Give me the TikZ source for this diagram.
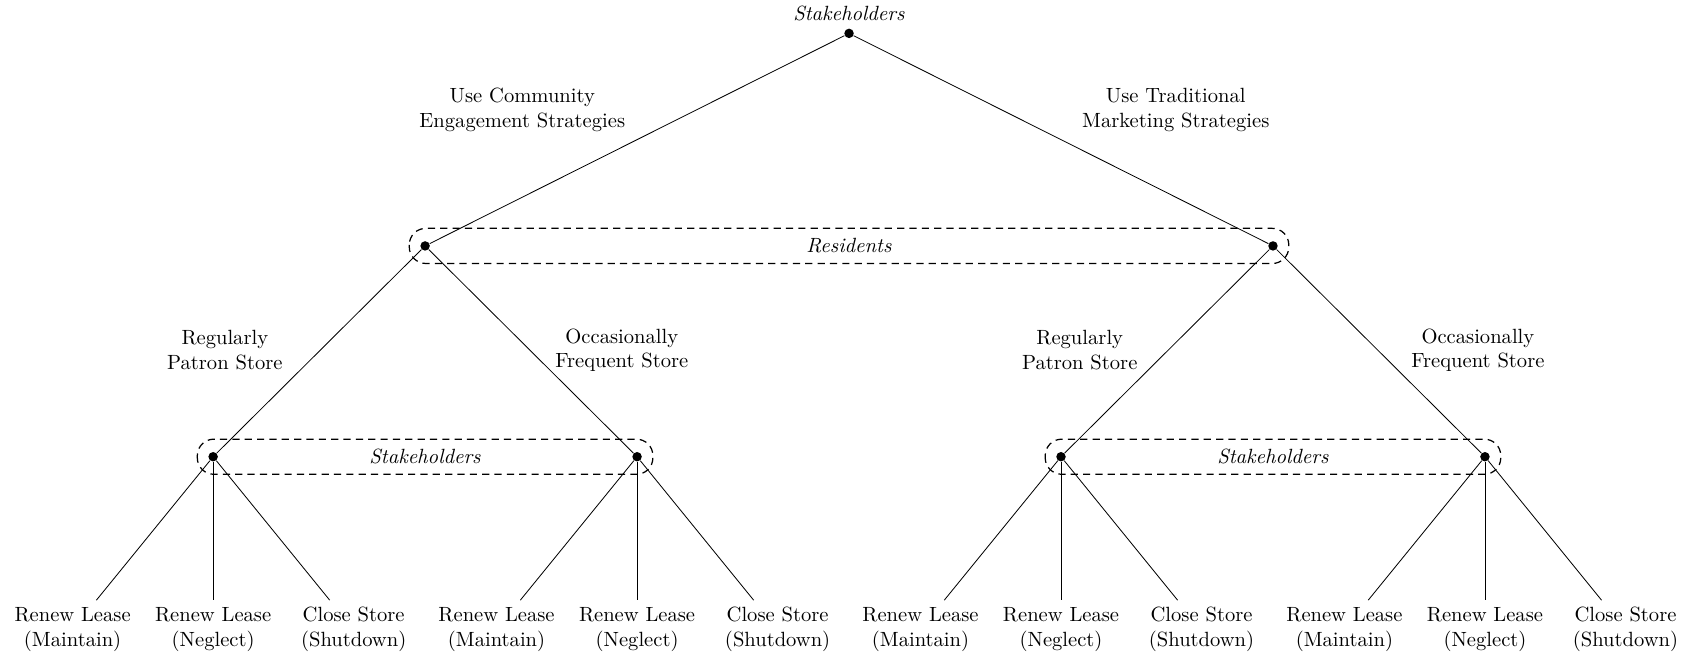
\documentclass[tikz,border=0pt]{standalone}
\usetikzlibrary{calc}
\tikzset{
  decision/.style={circle, fill, inner sep=0pt, minimum size=4.6pt},
  infoset/.style={dash pattern=on 3.5pt off 2.5pt, semithick, rounded corners=8pt},
  outcome/.style={align=center, anchor=north},
  choice/.style={align=center}
}
\begin{document}
\begin{tikzpicture}
    \useasboundingbox (-14.50, 0.57) rectangle (14.43, -10.67);

    % first move
    \node[decision] (root) at (0, 0) {};
    \node[above] (rootlbl) at (root.north) {\textit{Stakeholders}};
    \node[decision] (res1) at (-7.24, -3.63) {};
    \node[decision] (res2) at (7.24, -3.63) {};
    \draw (root) -- (res1); \draw (root) -- (res2);
    \node[choice] (comm) at (-5.58, -1.31) {Use Community\\Engagement Strategies};
    \node[choice] (trad) at (5.58, -1.31) {Use Traditional\\Marketing Strategies};

    % residents move
    \draw[infoset] ($(res1) + (-0.27, 0.3)$) rectangle ($(res2) + (0.27, -0.3)$);
    \node (reslbl) at ($(res1)!0.5!(res2)$) {\textit{Residents}};

    \node[decision] (stk1) at (-10.86, -7.23) {};
    \node[decision] (stk2) at (-3.62, -7.23) {};
    \node[decision] (stk3) at (3.62, -7.23) {};
    \node[decision] (stk4) at (10.86, -7.23) {};
    \draw (res1) -- (stk1); \draw (res1) -- (stk2);
    \draw (res2) -- (stk3); \draw (res2) -- (stk4);
    \node[choice] (reg1) at (-10.66, -5.41) {Regularly\\Patron Store};
    \node[choice] (occ1) at (-3.88, -5.41) {Occasionally\\Frequent Store};
    \node[choice] (reg2) at (3.94, -5.41) {Regularly\\Patron Store};
    \node[choice] (occ2) at (10.74, -5.41) {Occasionally\\Frequent Store};

    % stakeholders move again
    \draw[infoset] ($(stk1) + (-0.27, 0.3)$) rectangle ($(stk2) + (0.27, -0.3)$);
    \node (stklbl1) at ($(stk1)!0.5!(stk2)$) {\textit{Stakeholders}};
    \draw[infoset] ($(stk3) + (-0.27, 0.3)$) rectangle ($(stk4) + (0.27, -0.3)$);
    \node (stklbl2) at ($(stk3)!0.5!(stk4)$) {\textit{Stakeholders}};

    \node[outcome] (out1) at (-13.26, -9.68) {Renew Lease\\(Maintain)};
    \node[outcome] (out2) at (-10.86, -9.68) {Renew Lease\\(Neglect)};
    \node[outcome] (out3) at (-8.46, -9.68) {Close Store\\(Shutdown)};
    \node[outcome] (out4) at (-6.02, -9.68) {Renew Lease\\(Maintain)};
    \node[outcome] (out5) at (-3.62, -9.68) {Renew Lease\\(Neglect)};
    \node[outcome] (out6) at (-1.22, -9.68) {Close Store\\(Shutdown)};
    \node[outcome] (out7) at (1.22, -9.68) {Renew Lease\\(Maintain)};
    \node[outcome] (out8) at (3.62, -9.68) {Renew Lease\\(Neglect)};
    \node[outcome] (out9) at (6.02, -9.68) {Close Store\\(Shutdown)};
    \node[outcome] (out10) at (8.46, -9.68) {Renew Lease\\(Maintain)};
    \node[outcome] (out11) at (10.86, -9.68) {Renew Lease\\(Neglect)};
    \node[outcome] (out12) at (13.26, -9.68) {Close Store\\(Shutdown)};
    \draw (stk1) -- (out1); \draw (stk1) -- (out2); \draw (stk1) -- (out3);
    \draw (stk2) -- (out4); \draw (stk2) -- (out5); \draw (stk2) -- (out6);
    \draw (stk3) -- (out7); \draw (stk3) -- (out8); \draw (stk3) -- (out9);
    \draw (stk4) -- (out10); \draw (stk4) -- (out11); \draw (stk4) -- (out12);
\end{tikzpicture}
\end{document}
